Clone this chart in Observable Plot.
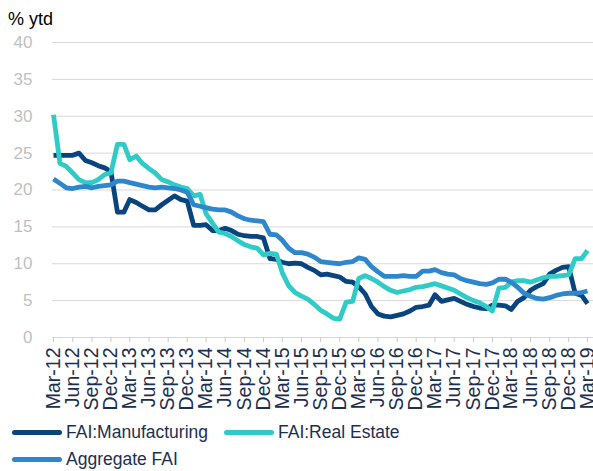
<!DOCTYPE html>
<html>
<head>
<meta charset="utf-8">
<script src="https://cdn.jsdelivr.net/npm/d3@7"></script>
<script src="https://cdn.jsdelivr.net/npm/@observablehq/plot@0.6"></script>
<style>
  body { margin: 0; background: #fff; font-family: "Liberation Sans", Arial, sans-serif; }
  #wrap { width: 593px; height: 471px; position: relative; overflow: hidden; background: #fff; }
  #hdr { height: 32px; position: relative; }
  #hdr span { position: absolute; left: 8px; top: 10px; font-size: 18px; color: #000; line-height: 1; }
  #legend { position: relative; height: 56px; }
  .item { position: absolute; display: flex; align-items: center; font-size: 17.5px; color: #1c2f4f; line-height: 1; white-space: nowrap; }
  .sw { width: 50px; height: 5px; border-radius: 3px; margin-right: 4px; }
</style>
</head>
<body>
<div id="wrap">
  <div id="hdr"><span>% ytd</span></div>
  <div id="chart"></div>
  <div id="legend"></div>
</div>
<script>
const seriesNames = ["FAI:Manufacturing", "FAI:Real Estate", "Aggregate FAI"];
const seriesColors = ["#0a447e", "#2fcbc6", "#2e87cc"];
const yTicks = [0, 5, 10, 15, 20, 25, 30, 35, 40];

// monthly, Mar-12 .. Mar-19
const manufacturing = [
  24.7, 24.7, 24.7, 24.7, 25.0, 24.0, 23.7, 23.3, 23.0, 22.5,
  17.0, 17.0, 18.7, 18.3, 17.8, 17.3, 17.3, 18.0, 18.6, 19.2,
  18.7, 18.5, 15.2, 15.2, 15.3, 14.5, 14.5, 14.8, 14.5, 14.0,
  13.8, 13.7, 13.7, 13.5, 10.7, 10.6, 10.2, 10.0, 10.1, 10.0,
  9.5, 9.1, 8.5, 8.6, 8.4, 8.2, 7.6, 7.5, 6.9, 5.9,
  4.2, 3.2, 2.9, 2.8, 3.0, 3.2, 3.6, 4.1, 4.2, 4.4,
  5.8, 4.9, 5.1, 5.3, 4.9, 4.5, 4.2, 4.0, 3.9, 4.4,
  4.4, 4.3, 3.8, 4.9, 5.4, 6.4, 6.9, 7.3, 8.6, 9.1,
  9.5, 9.6, 6.0, 5.7, 4.6
];
const realEstate = [
  30.2, 23.6, 23.2, 22.3, 21.4, 21.0, 21.0, 21.4, 22.1, 22.3,
  26.2, 26.2, 24.1, 24.6, 23.6, 22.9, 22.3, 21.4, 21.1, 20.7,
  20.4, 20.2, 19.2, 19.4, 16.8, 15.5, 14.3, 14.1, 13.7, 13.1,
  12.6, 12.3, 12.1, 11.2, 11.4, 11.3, 8.8, 7.0, 6.1, 5.6,
  5.2, 4.5, 3.7, 3.2, 2.6, 2.5, 4.8, 4.9, 8.0, 8.4,
  8.0, 7.5, 6.9, 6.4, 6.1, 6.3, 6.5, 6.8, 6.9, 7.1,
  7.3, 7.0, 6.7, 6.4, 5.9, 5.4, 5.0, 4.7, 4.2, 3.6,
  6.7, 6.8, 7.5, 7.7, 7.7, 7.5, 7.8, 8.1, 8.3, 8.3,
  8.4, 8.5, 10.7, 10.7, 11.8
];
const aggregate = [
  21.5, 20.9, 20.3, 20.2, 20.4, 20.5, 20.3, 20.5, 20.6, 20.7,
  21.2, 21.2, 21.0, 20.8, 20.6, 20.4, 20.3, 20.4, 20.3, 20.2,
  20.0, 19.7, 18.0, 17.8, 17.6, 17.4, 17.3, 17.3, 17.0, 16.5,
  16.1, 15.9, 15.8, 15.7, 14.0, 13.9, 13.2, 12.1, 11.5, 11.5,
  11.3, 10.9, 10.3, 10.2, 10.1, 10.0, 10.2, 10.3, 10.8, 10.6,
  9.6, 8.9, 8.3, 8.3, 8.3, 8.4, 8.3, 8.3, 9.0, 9.0,
  9.2, 8.8, 8.6, 8.5, 8.0, 7.7, 7.5, 7.3, 7.2, 7.4,
  7.9, 7.9, 7.5, 6.8, 6.0, 5.6, 5.3, 5.2, 5.4, 5.7,
  5.9, 6.0, 6.0, 6.1, 6.3
];

const months = d3.utcMonth.range(new Date(Date.UTC(2012, 2, 1)), new Date(Date.UTC(2019, 3, 1)));
const xTicks = months.filter((d, i) => i % 3 === 0);
const fmt = d3.utcFormat("%b-%y");

const table = [];
[manufacturing, realEstate, aggregate].forEach((arr, s) => {
  arr.forEach((v, i) => table.push({date: months[i], value: v, series: seriesNames[s]}));
});

const chart = Plot.plot({
  width: 593,
  height: 383,
  marginTop: 10,
  marginBottom: 78,
  marginLeft: 52,
  marginRight: 0,
  style: {fontFamily: "'Liberation Sans', Arial, sans-serif", background: "white", overflow: "visible"},
  x: {type: "utc", domain: [months[0], months[months.length - 1]], range: [53, 587]},
  y: {domain: [0, 40]},
  color: {domain: seriesNames, range: seriesColors},
  marks: [
    Plot.ruleY(yTicks, {stroke: "#d9d9d9", strokeWidth: 1}),
    Plot.axisY({ticks: yTicks, tickSize: 0, tickPadding: 20, fontSize: 17, fill: "#bfbfbf", label: null}),
    Plot.axisX({ticks: xTicks, tickFormat: fmt, tickRotate: -90, tickSize: 5, tickPadding: 5,
                fontSize: 19.5, stroke: "#c8c8c8", fill: "#1c2f4f", label: null}),
    ...seriesNames.map(name =>
      Plot.line(table.filter(d => d.series === name), {
        x: "date", y: "value", stroke: "series", strokeWidth: 4.8,
        strokeLinejoin: "round", strokeLinecap: "butt"
      })
    )
  ]
});
document.getElementById("chart").appendChild(chart);

const legend = document.getElementById("legend");
const pos = [[12, 9], [224, 9], [12, 36]];
seriesNames.forEach((name, i) => {
  const it = document.createElement("div");
  it.className = "item";
  it.style.left = pos[i][0] + "px";
  it.style.top = pos[i][1] + "px";
  const sw = document.createElement("div");
  sw.className = "sw";
  sw.style.background = seriesColors[i];
  const tx = document.createElement("span");
  tx.textContent = name;
  it.appendChild(sw);
  it.appendChild(tx);
  legend.appendChild(it);
});
</script>
</body>
</html>
